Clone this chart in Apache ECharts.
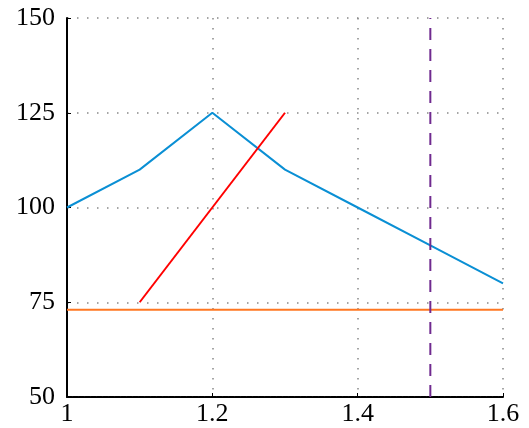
<!DOCTYPE html>
<html>
<head>
<meta charset="utf-8">
<script src="https://cdn.jsdelivr.net/npm/echarts@6/dist/echarts.min.js"></script>
<style>html,body{margin:0;padding:0;background:#fff}#c{width:529px;height:428px}</style>
</head>
<body>
<div id="c"></div>
<script>
const blueX = [1, 1.1, 1.2, 1.3, 1.4, 1.5, 1.6];
const blueY = [100, 110, 125, 110, 100, 90, 80];
const redX = [1.1, 1.3];
const redY = [75, 125];
const orangeX = [1, 1.6];
const orangeY = [73, 73];
const purpleX = [1.5, 1.5];
const purpleY = [50, 150];
const xTicks = [1, 1.2, 1.4, 1.6];
const yTicks = [50, 75, 100, 125, 150];

const pairs = (xs, ys) => xs.map((x, i) => [x, ys[i]]);
const font = 'Liberation Serif';
const chart = echarts.init(document.getElementById('c'));
const grid = {type: [1.5, 8.5], color: '#888', width: 1.5};
chart.setOption({
  animation: false,
  grid: {left: 67, right: 26, top: 18, bottom: 31},
  xAxis: {
    type: 'value', min: xTicks[0], max: xTicks[xTicks.length - 1], interval: 0.2,
    axisLine: {lineStyle: {color: '#000', width: 2, type: [5, 1]}},
    axisTick: {inside: true, length: 4, lineStyle: {color: '#000'}},
    axisLabel: {fontFamily: font, fontSize: 26, color: '#000', margin: 4,
      formatter: v => String(Math.round(v * 10) / 10)},
    splitLine: {show: true, lineStyle: grid}
  },
  yAxis: {
    type: 'value', min: yTicks[0], max: yTicks[yTicks.length - 1], interval: 25,
    axisLine: {show: true, lineStyle: {color: '#000', width: 2}},
    axisTick: {show: true, inside: true, length: 4, lineStyle: {color: '#000'}},
    axisLabel: {fontFamily: font, fontSize: 26, color: '#000', margin: 12},
    splitLine: {show: true, lineStyle: grid}
  },
  series: [
    {type: 'line', data: pairs(blueX, blueY), showSymbol: false, lineStyle: {color: '#0a8fd4', width: 2}},
    {type: 'line', data: pairs(redX, redY), showSymbol: false, lineStyle: {color: '#ff0000', width: 2}},
    {type: 'line', data: pairs(orangeX, orangeY), showSymbol: false, lineStyle: {color: '#ff7722', width: 2}},
    {type: 'line', data: pairs(purpleX, purpleY), showSymbol: false, lineStyle: {color: '#702a8f', width: 2, type: [12, 9]}}
  ]
});
</script>
</body>
</html>
